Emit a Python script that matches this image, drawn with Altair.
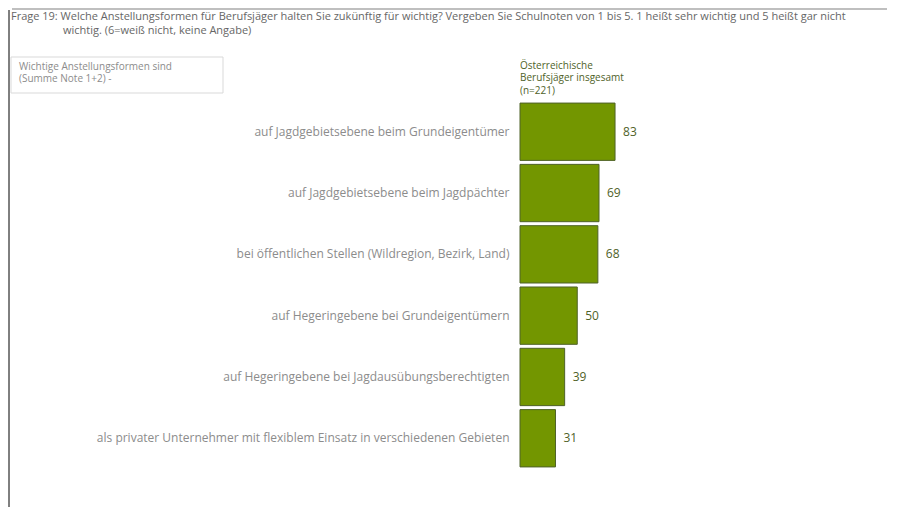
import altair as alt
import pandas as pd

categories = [
    "auf Jagdgebietsebene beim Grundeigentümer",
    "auf Jagdgebietsebene beim Jagdpächter",
    "bei öffentlichen Stellen (Wildregion, Bezirk, Land)",
    "auf Hegeringebene bei Grundeigentümern",
    "auf Hegeringebene bei Jagdausübungsberechtigten",
    "als privater Unternehmer mit flexiblem Einsatz in verschiedenen Gebieten",
]
values = [83, 69, 68, 50, 39, 31]

title_line1 = "Frage 19: Welche Anstellungsformen für Berufsjäger halten Sie zukünftig für wichtig? Vergeben Sie Schulnoten von 1 bis 5. 1 heißt sehr wichtig und 5 heißt gar nicht"
title_line2 = "wichtig. (6=weiß nicht, keine Angabe)"
box_text = "Wichtige Anstellungsformen sind\n(Summe Note 1+2) -"
header_text = "Österreichische\nBerufsjäger insgesamt\n(n=221)"

df = pd.DataFrame({"cat": categories, "val": values})

FONT = "Open Sans"
GREEN_TEXT = "#4f6228"

y_enc = alt.Y(
    "cat:N",
    sort=categories,
    scale=alt.Scale(paddingInner=0.065, paddingOuter=0.05),
    axis=alt.Axis(
        title=None, ticks=False, domain=False, labelPadding=11,
        labelLimit=500, labelFont=FONT, labelFontSize=12,
        labelColor="#8c8c8c",
    ),
)
x_enc = alt.X("val:Q", scale=alt.Scale(domain=[0, 100]), axis=None)

base = alt.Chart(df)

bars = base.mark_bar(fill="#739600", stroke=GREEN_TEXT, strokeWidth=1).encode(
    x=x_enc, y=y_enc
)
labels = base.mark_text(
    align="left", baseline="middle", dx=8, font=FONT, fontSize=12, color=GREEN_TEXT
).encode(x=x_enc, y=y_enc, text="val:Q")

one = pd.DataFrame({"a": [0]})
ann = alt.Chart(one)

top_bar = ann.mark_rule(color="#bfbfbf", strokeWidth=2).encode(
    x=alt.value(-508), x2=alt.value(367), y=alt.value(-91)
)
left_line = ann.mark_rule(color="#000000", strokeWidth=1).encode(
    x=alt.value(-511), y=alt.value(-90), y2=alt.value(407)
)
t1 = ann.mark_text(
    align="left", baseline="alphabetic", font=FONT, fontSize=11, color="#666666",
    text=title_line1,
).encode(x=alt.value(-509), y=alt.value(-80))
t2 = ann.mark_text(
    align="left", baseline="alphabetic", font=FONT, fontSize=11, color="#666666",
    text=title_line2,
).encode(x=alt.value(-457), y=alt.value(-66))
box = ann.mark_rect(fill="white", stroke="#d9d9d9", strokeWidth=1).encode(
    x=alt.value(-509), x2=alt.value(-297), y=alt.value(-43), y2=alt.value(-7)
)
box_t = ann.mark_text(
    align="left", baseline="alphabetic", font=FONT, fontSize=10, color="#8c8c8c",
    text=box_text.split("\n"), lineHeight=12.5,
).encode(x=alt.value(-501), y=alt.value(-30.5))
header = ann.mark_text(
    align="left", baseline="alphabetic", font=FONT, fontSize=10, color=GREEN_TEXT,
    text=header_text.split("\n"), lineHeight=12.5,
).encode(x=alt.value(0), y=alt.value(-31.5))

chart = alt.layer(
    top_bar, left_line, t1, t2, box, box_t, header, bars, labels
).properties(
    width=114.5,
    height=370,
    autosize=alt.AutoSizeParams(type="none"),
    padding={"left": 512, "top": 92, "right": 260, "bottom": 37},
).configure_view(stroke=None)

chart.save("out.html", embed_options={"renderer": "svg", "actions": False})
